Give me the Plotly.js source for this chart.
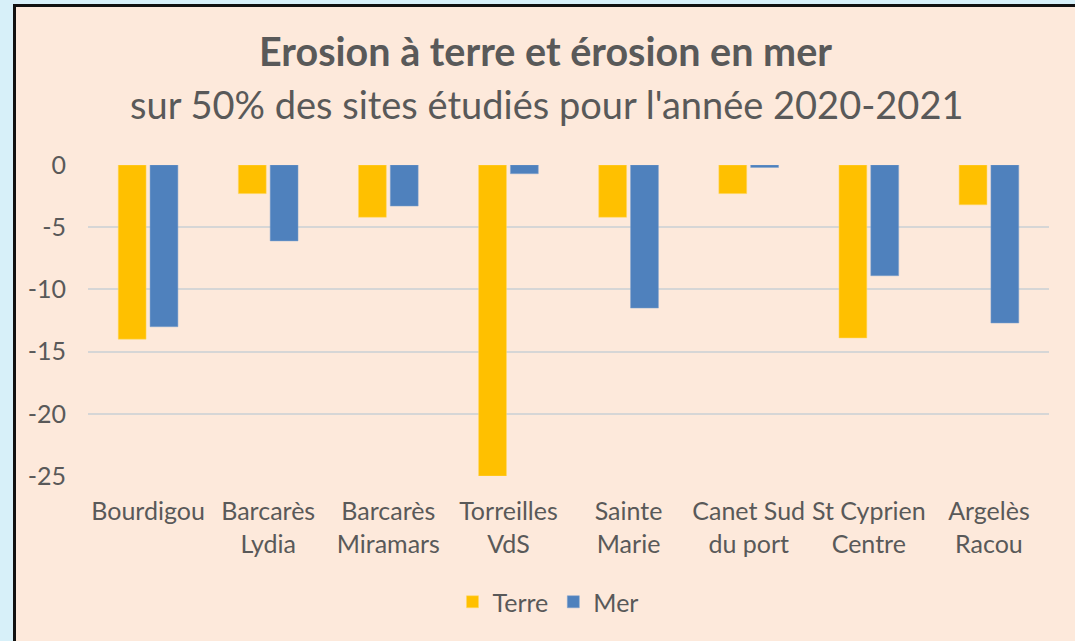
<!DOCTYPE html>
<html>
<head>
<meta charset="utf-8">
<script src="https://cdn.plot.ly/plotly-3.0.1.min.js"></script>
<style>
  html, body { margin:0; padding:0; background:#d7f0f9; width:1075px; height:641px; overflow:hidden; }
  #frame { position:absolute; left:13px; top:4px; width:1070px; height:650px; border-left:3px solid #111; border-top:3px solid #111; background:#fde9db; }
  #chart { position:absolute; left:0; top:0; width:1059px; height:634px; }
</style>
</head>
<body>
<div id="frame"><div id="chart"></div></div>
<script>
const categories = ["Bourdigou", "Barcarès<br>Lydia", "Barcarès<br>Miramars", "Torreilles<br>VdS", "Sainte<br>Marie", "Canet Sud<br>du port", "St Cyprien<br>Centre", "Argelès<br>Racou"];
const terre = [-14.0, -2.3, -4.2, -25.0, -4.2, -2.3, -13.9, -3.2];
const mer = [-13.0, -6.1, -3.3, -0.7, -11.5, -0.2, -8.9, -12.7];
const yTicks = [0, -5, -10, -15, -20, -25];

const FONT = "Lato, 'Open Sans', sans-serif";
const GREY = "#595959";

const data = [
  { type:"bar", name:"Terre", x:categories, y:terre, marker:{color:"#ffc000", line:{color:"#ffd866", width:0.5}} },
  { type:"bar", name:"Mer", x:categories, y:mer, marker:{color:"#4f81bd", line:{color:"#7fa3cf", width:0.5}} }
];

const layout = {
  width:1059, height:634,
  paper_bgcolor:"#fde9db", plot_bgcolor:"#fde9db",
  margin:{l:72, r:26, t:158, b:165},
  barmode:"group", bargap:0.47, bargroupgap:0.125,
  font:{family:FONT, color:GREY, size:25},
  title:{text:"<b>Erosion à terre et érosion en mer</b>", x:0.5, xref:"container", y:1-45/634, yref:"container", yanchor:"middle", font:{family:FONT, size:39.5, color:GREY}},
  annotations:[
    {text:"sur 50% des sites étudiés pour l'année 2020-2021", xref:"paper", yref:"paper", x:(530-72)/961, y:1+(158-97)/311, xanchor:"center", yanchor:"middle", showarrow:false, font:{family:FONT, size:38, color:GREY}}
  ],
  xaxis:{type:"category", showgrid:false, zeroline:false, showline:false, ticks:"", tickfont:{size:25, color:GREY}, tickangle:0, ticklabelstandoff:18, automargin:false},
  yaxis:{range:[-25, 0], tickvals:yTicks, ticktext:yTicks.map(String), showgrid:true, gridcolor:"#d6d6d6", gridwidth:2, zeroline:false, showline:false, ticks:"", ticklabelstandoff:21, tickfont:{size:25, color:GREY}, automargin:false},
  legend:{orientation:"h", x:(532-72)/961, xanchor:"center", y:-(595-469)/311, yanchor:"middle", font:{size:25, color:GREY}, bgcolor:"rgba(0,0,0,0)", itemwidth:30, traceorder:"normal"},
  showlegend:true
};

Plotly.newPlot("chart", data, layout, {displayModeBar:false, staticPlot:true});
</script>
</body>
</html>
